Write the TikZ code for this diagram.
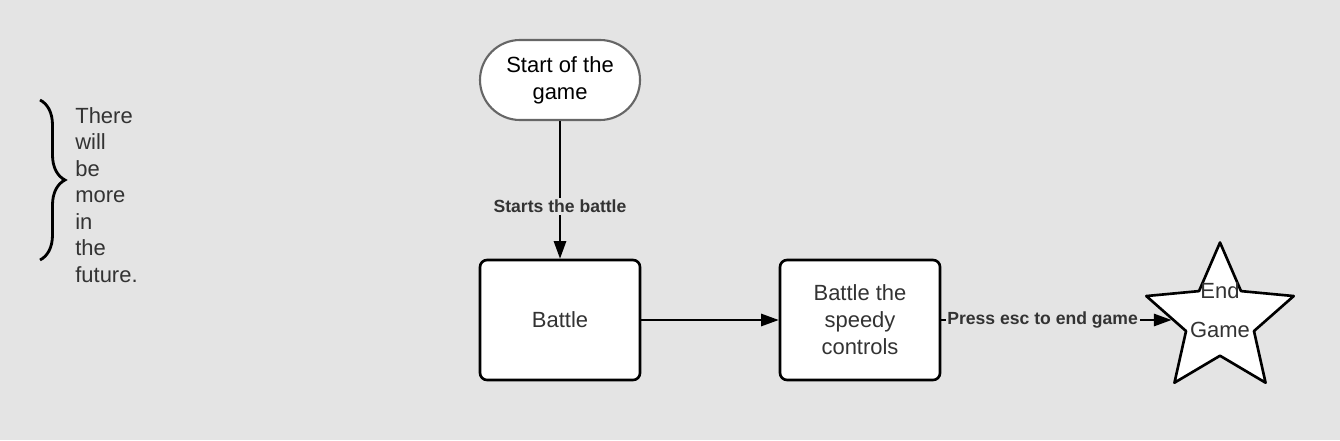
\documentclass[tikz,border=0pt]{standalone}
\usepackage{fontspec}
\setmainfont{Liberation Sans}
\usetikzlibrary{arrows.meta,shapes.geometric,decorations.pathreplacing}
\definecolor{bgcol}{HTML}{E4E4E4}
\definecolor{txtcol}{HTML}{333333}
\definecolor{rimcol}{HTML}{666666}

\begin{document}
\begin{tikzpicture}[
  box/.style={draw, line width=1.5pt, rounded corners=4pt, fill=white, text=txtcol, minimum width=3.2cm, minimum height=2.4cm, align=center, font=\fontsize{12.5}{15.3}\selectfont},
  flow/.style={-{Triangle[length=10pt,width=7pt]}, line width=1.1pt},
  tag/.style={fill=bgcol, inner sep=1pt, text=txtcol, font=\fontsize{10}{12}\selectfont\bfseries}
]

\useasboundingbox (0, 0) rectangle (26.8, 8.8);
\fill[bgcol] (0, 0) rectangle (26.8, 8.8);

\node[anchor=west, inner sep=0pt, align=left, text=txtcol, font=\fontsize{12.5}{15.1}\selectfont] (0) at (1.5, 4.9) {There\\will\\be\\more\\in\\the\\future.};
\draw[decorate, decoration={brace, amplitude=0.5cm}, line width=1.6pt] (0.8, 6.8) -- (0.8, 3.6);

\node[draw=rimcol, line width=1.2pt, rounded corners=0.8cm, fill=white, minimum width=3.2cm, minimum height=1.6cm, align=center, font=\fontsize{12.5}{15.3}\selectfont] (1) at (11.2, 7.2) {Start of the\\game};
\node[box] (2) at (11.2, 2.4) {Battle};
\node[box] (3) at (17.2, 2.4) {Battle the\\speedy\\controls};
\node[draw, star, star points=5, star point ratio=2.17, minimum size=3.1cm, inner sep=0pt, line width=1.5pt, line join=round, fill=white,
  label={[yshift=0.2cm, align=center, text=txtcol, font=\fontsize{12.5}{22}\selectfont]center:End\\Game}] (4) at (24.4, 2.4) {};

\draw[flow] (1.south) -- node[tag, pos=0.62] {Starts the battle} (2.north);
\draw[flow] (2.east) -- (3.west);
\draw[flow] (3.east) -- node[tag, pos=0.44] {Press esc to end game} (4.west);

\end{tikzpicture}
\end{document}
